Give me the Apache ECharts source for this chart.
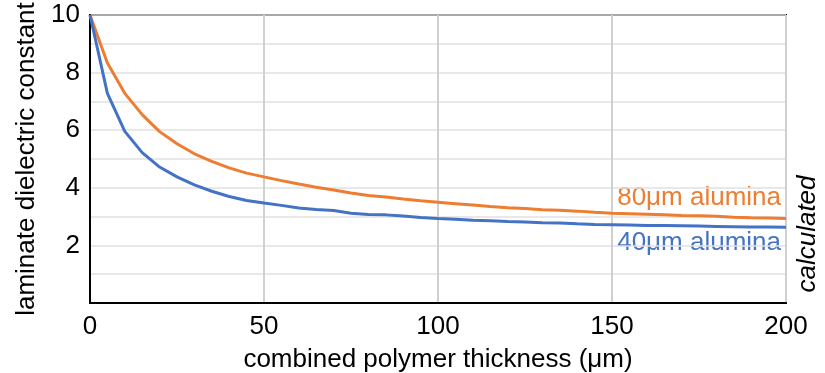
<!DOCTYPE html>
<html>
<head>
<meta charset="utf-8">
<script src="https://cdn.jsdelivr.net/npm/echarts@6/dist/echarts.min.js"></script>
<style>
html,body{margin:0;padding:0;background:#fff;}
#chart{width:825px;height:373px;}
</style>
</head>
<body>
<div id="chart"></div>
<script>
const thickness = [0,5,10,15,20,25,30,35,40,45,50,55,60,65,70,75,80,85,90,95,100,105,110,115,120,125,130,135,140,145,150,155,160,165,170,175,180,185,190,195,200];
const alumina40 = [10,7.28,5.96,5.22,4.72,4.38,4.10,3.88,3.70,3.56,3.47,3.39,3.30,3.25,3.21,3.12,3.07,3.06,3.02,2.97,2.93,2.91,2.87,2.86,2.83,2.81,2.79,2.78,2.75,2.73,2.72,2.71,2.69,2.69,2.68,2.67,2.66,2.65,2.64,2.64,2.63];
const alumina80 = [10,8.33,7.28,6.54,5.95,5.53,5.18,4.92,4.69,4.51,4.38,4.25,4.13,4.02,3.92,3.82,3.73,3.68,3.61,3.55,3.50,3.45,3.40,3.35,3.31,3.28,3.24,3.22,3.19,3.15,3.12,3.10,3.08,3.06,3.04,3.03,3.01,2.98,2.96,2.95,2.93];
const seriesNames = ['80\u03bcm alumina','40\u03bcm alumina'];
const xTitle = 'combined polymer thickness (\u03bcm)';
const yTitle = 'laminate dielectric constant';
const sideNote = 'calculated';

const FONT = '"Liberation Sans", Arial, sans-serif';
const chart = echarts.init(document.getElementById('chart'), null, {renderer:'canvas'});
chart.setOption({
  animation:false,
  grid:{left:90,right:39,top:15,bottom:70,show:true,borderColor:'#000',borderWidth:2,backgroundColor:'transparent',outerBoundsMode:'none',containLabel:false},
  xAxis:{
    type:'value',min:0,max:200,interval:50,
    name:xTitle,nameLocation:'middle',nameGap:44,
    nameTextStyle:{fontFamily:FONT,fontSize:26,color:'#000'},
    axisLine:{show:true,lineStyle:{color:'#000',width:2}},
    axisTick:{show:false},
    axisLabel:{fontFamily:FONT,fontSize:26,color:'#000',margin:11},
    splitLine:{show:true,lineStyle:{color:'#d0d0d0',width:2}}
  },
  yAxis:{
    type:'value',min:0,max:10,interval:1,
    name:yTitle,nameLocation:'middle',nameGap:50,
    nameTextStyle:{fontFamily:FONT,fontSize:26,color:'#000'},
    axisLine:{show:true,lineStyle:{color:'#000',width:2}},
    axisTick:{show:false},
    axisLabel:{fontFamily:FONT,fontSize:26,color:'#000',margin:10,
      formatter:function(v){return (v!==0 && v%2===0)?String(v):'';}},
    splitLine:{show:true,lineStyle:{color:'#e0e0e0',width:1.5}}
  },
  series:[
    {name:seriesNames[0],type:'line',data:thickness.map((x,i)=>[x,alumina80[i]]),showSymbol:false,lineStyle:{color:'#ED7D31',width:3},itemStyle:{color:'#ED7D31'},z:3},
    {name:seriesNames[1],type:'line',data:thickness.map((x,i)=>[x,alumina40[i]]),showSymbol:false,lineStyle:{color:'#4472C4',width:3},itemStyle:{color:'#4472C4'},z:4}
  ],
  graphic:[
    {type:'text',right:44,top:185,style:{text:seriesNames[0],fill:'#ED7D31',font:'26px '+FONT}},
    {type:'text',right:44,top:230,style:{text:seriesNames[1],fill:'#4472C4',font:'26px '+FONT}},
    {type:'text',x:808,y:234,rotation:Math.PI/2,style:{text:sideNote,fill:'#000',font:'italic 26px '+FONT,align:'center',verticalAlign:'middle'}}
  ]
});
</script>
</body>
</html>
